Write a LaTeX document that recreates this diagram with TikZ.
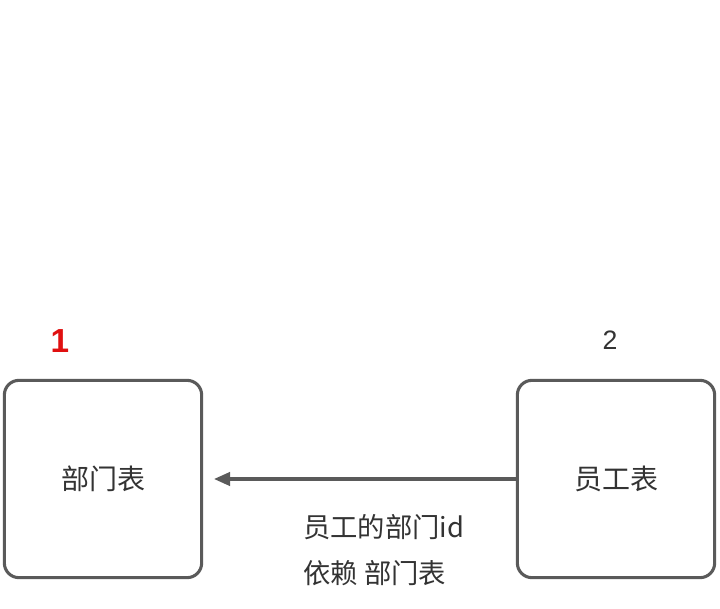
\documentclass[tikz,border=0pt]{standalone}
\usepackage{fontspec}
\usetikzlibrary{arrows.meta}
\setmainfont{Liberation Sans}
\newfontfamily\cjk{Noto Sans CJK SC}
\definecolor{boxgray}{HTML}{5A5A5A}
\definecolor{txtgray}{HTML}{333333}
\definecolor{numred}{HTML}{E01010}
\begin{document}
\begin{tikzpicture}[x=0.75pt,y=-0.75pt,
  tbl/.style={draw=boxgray, line width=2.3pt, rounded corners=11pt, fill=white,
    minimum width=148pt, minimum height=148pt, inner sep=0pt,
    font=\cjk\fontsize{21}{25}\selectfont, text=txtgray},
  lbl/.style={font=\cjk\fontsize{20.5}{34.5}\selectfont, text=txtgray, align=left, inner sep=0pt},
  conn/.style={draw=boxgray, line width=2.3pt, -{Triangle[length=12pt,width=10pt]}}]
\useasboundingbox[fill=white] (0,0) rectangle (720,609);
\node[tbl] (dept) at (103,479) {部门表};
\node[tbl] (emp) at (616,479) {员工表};
\node[font=\bfseries\fontsize{25}{30}\selectfont, text=numred] (n1) at (60,341) {1};
\node[font=\fontsize{20}{24}\selectfont, text=txtgray] (n2) at (610,340) {2};
\coordinate (tip) at (214,479);
\draw[conn] (emp.west) -- (tip);
\node[lbl, anchor=north west] (el) at (303,514) {员工的部门id\\依赖 部门表};
\end{tikzpicture}
\end{document}
